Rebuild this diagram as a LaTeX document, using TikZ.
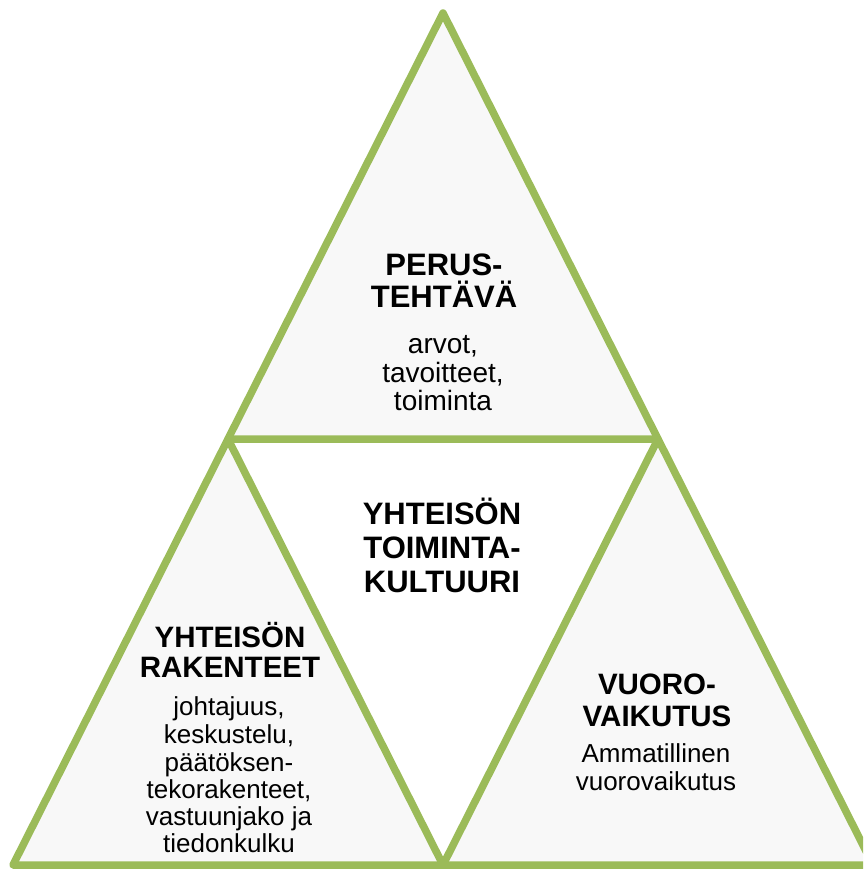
\documentclass[tikz,border=0pt]{standalone}
\usepackage{fontspec}
\setmainfont{Liberation Sans}
\definecolor{tgreen}{HTML}{9BBB59}
\definecolor{tfill}{HTML}{F8F8F8}
\begin{document}
\begin{tikzpicture}[x=1pt,y=-1pt,
  edge/.style={draw=tgreen,line width=7.5pt,line join=round},
  corner/.style={fill=tfill},
  head/.style={font=\fontsize{31}{33}\selectfont\bfseries,anchor=base,inner sep=0pt},
  headsm/.style={font=\fontsize{29.5}{31}\selectfont\bfseries,anchor=base,inner sep=0pt},
  body/.style={font=\fontsize{26}{28}\selectfont,anchor=base,inner sep=0pt},
  bodybig/.style={font=\fontsize{28}{30}\selectfont,anchor=base,inner sep=0pt}]
\useasboundingbox (0,0) rectangle (863,870);
\fill[white] (0,0) rectangle (863,870);
\clip (0,0) rectangle (863,870);
\coordinate (A) at (443,13);
\coordinate (L) at (228,439);
\coordinate (R) at (658,439);
\coordinate (BL) at (13,865);
\coordinate (BM) at (443,865);
\coordinate (BR) at (873,865);
\fill[corner] (A) -- (L) -- (R) -- cycle;
\fill[corner] (L) -- (BL) -- (BM) -- cycle;
\fill[corner] (R) -- (BM) -- (BR) -- cycle;
\draw[edge] (A) -- (BL) -- (BR) -- cycle;
\draw[edge] (L) -- (R) -- (BM) -- cycle;
% top
\node[head] (t1) at (444,275) {PERUS-};
\node[head] (t2) at (444,307) {TEHTÄVÄ};
\node[bodybig] (t3) at (443,353) {arvot,};
\node[bodybig] (t4) at (443,382) {tavoitteet,};
\node[bodybig] (t5) at (443,410) {toiminta};
% middle
\node[head] (m1) at (442,524) {YHTEISÖN};
\node[head] (m2) at (442,558) {TOIMINTA-};
\node[head] (m3) at (442,592) {KULTUURI};
% left
\node[headsm] (l1) at (230,647) {YHTEISÖN};
\node[headsm] (l2) at (230,677) {RAKENTEET};
\node[body] (l3) at (229,715) {johtajuus,};
\node[body] (l4) at (229,743) {keskustelu,};
\node[body] (l5) at (229,771) {päätöksen-};
\node[body] (l6) at (229,798) {tekorakenteet,};
\node[body] (l7) at (229,825) {vastuunjako ja};
\node[body] (l8) at (229,852) {tiedonkulku};
% right
\node[headsm] (r1) at (657,694) {VUORO-};
\node[headsm] (r2) at (657,726) {VAIKUTUS};
\node[body] (r3) at (656,762) {Ammatillinen};
\node[body] (r4) at (656,790) {vuorovaikutus};
\end{tikzpicture}
\end{document}
